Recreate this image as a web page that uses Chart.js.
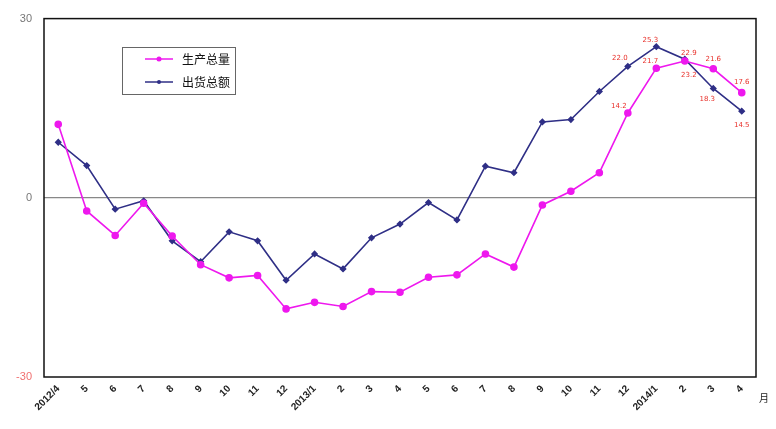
<!DOCTYPE html>
<html>
<head>
<meta charset="utf-8">
<script src="https://cdn.jsdelivr.net/npm/chart.js@4"></script>
<style>
  html, body { margin: 0; padding: 0; background: #fff; }
  #wrap { width: 776px; height: 429px; }
</style>
</head>
<body>
<div id="wrap"><canvas id="chart"></canvas></div>
<script>
const months = ['2012/4','5','6','7','8','9','10','11','12','2013/1','2','3','4','5','6','7','8','9','10','11','12','2014/1','2','3','4']
const production = [12.3,-2.2,-6.3,-0.9,-6.4,-11.2,-13.4,-13.0,-18.6,-17.5,-18.2,-15.7,-15.8,-13.3,-12.9,-9.4,-11.6,-1.2,1.1,4.2,14.2,21.7,22.9,21.6,17.6]
const shipments = [9.3,5.4,-1.9,-0.5,-7.2,-10.7,-5.7,-7.2,-13.8,-9.4,-11.9,-6.7,-4.4,-0.8,-3.7,5.3,4.2,12.7,13.1,17.8,22.0,25.3,23.2,18.3,14.5]
const seriesNames = ['生产总量', '出货总额']
const yTicks = [-30, 0, 30]

// which points get a value label, and where it sits relative to the point
const valueLabels = [
    [1, 20, -8, -8], [0, 20, -9, -7],
    [1, 21, -6, -6], [0, 21, -6, -7],
    [0, 22, 4, -8], [1, 22, 4, 16],
    [0, 23, 0, -10], [1, 23, -6, 11],
    [0, 24, 0, -10], [1, 24, 0, 14]
]

const extras = {
    id: 'extras',
    afterDraw(chart) {
        const ctx = chart.ctx
        const a = chart.chartArea
        ctx.save()
        ctx.strokeStyle = '#111'
        ctx.lineWidth = 1.5
        ctx.strokeRect(a.left, a.top, a.right - a.left, a.bottom - a.top)

        // value labels
        ctx.fillStyle = '#e8302a'
        ctx.font = '7px "DejaVu Sans"'
        ctx.textAlign = 'center'
        ctx.textBaseline = 'middle'
        valueLabels.forEach(([ds, i, dx, dy]) => {
            const pt = chart.getDatasetMeta(ds).data[i]
            const v = chart.data.datasets[ds].data[i]
            ctx.fillText(v.toFixed(1), pt.x + dx, pt.y + dy)
        })

        // legend box
        ctx.strokeStyle = '#666'
        ctx.lineWidth = 1
        ctx.strokeRect(122.5, 47.5, 113, 47)
        ctx.font = '12px "Noto Sans CJK SC"'
        ctx.textAlign = 'left'
        chart.data.datasets.forEach((d, k) => {
            const y = 59 + k * 23
            ctx.strokeStyle = d.borderColor
            ctx.lineWidth = 1.5
            ctx.beginPath()
            ctx.moveTo(145, y)
            ctx.lineTo(173, y)
            ctx.stroke()
            ctx.fillStyle = d.borderColor
            ctx.beginPath()
            ctx.arc(159, y, k == 0 ? 2.5 : 2, 0, Math.PI * 2)
            ctx.fill()
            ctx.fillStyle = '#111'
            ctx.fillText(d.label, 182, y)
        })

        ctx.font = '10px "Noto Sans CJK SC"'
        ctx.fillStyle = '#222'
        ctx.fillText('月', 759, 398)
        ctx.restore()
    }
}

new Chart(document.getElementById('chart'), {
    type: 'line',
    data: {
        labels: months,
        datasets: [{
            label: seriesNames[0],
            data: production,
            borderColor: '#ee18ee',
            backgroundColor: '#ee18ee',
            borderWidth: 1.6,
            pointRadius: 3,
            pointStyle: 'circle',
            tension: 0
        }, {
            label: seriesNames[1],
            data: shipments,
            borderColor: '#2f2f86',
            backgroundColor: '#2f2f86',
            borderWidth: 1.6,
            pointRadius: 2.5,
            pointStyle: 'rectRot',
            tension: 0
        }]
    },
    options: {
        responsive: true,
        maintainAspectRatio: false,
        animation: false,
        layout: { padding: { left: 0, right: 20, top: 16, bottom: 0 } },
        plugins: {
            legend: { display: false },
            tooltip: { enabled: false }
        },
        scales: {
            x: {
                offset: true,
                grid: { display: false, drawTicks: false },
                border: { display: false },
                afterFit(s) { s.height = 52 },
                ticks: {
                    autoSkip: false,
                    maxRotation: 45,
                    minRotation: 45,
                    padding: 6,
                    color: '#222',
                    font: { family: 'Liberation Sans', size: 10, weight: 'bold' }
                }
            },
            y: {
                min: -30,
                max: 30,
                afterFit(s) { s.width = 44 },
                afterBuildTicks(s) { s.ticks = yTicks.map(v => ({ value: v })) },
                border: { display: false },
                grid: {
                    drawTicks: false,
                    color: c => c.tick && c.tick.value === 0 ? '#888' : 'transparent',
                    lineWidth: 1.2
                },
                ticks: {
                    padding: 12,
                    color: c => c.tick.value < 0 ? '#f07070' : '#777',
                    font: { family: 'Liberation Sans', size: 11 }
                }
            }
        }
    },
    plugins: [extras]
})
</script>
</body>
</html>
